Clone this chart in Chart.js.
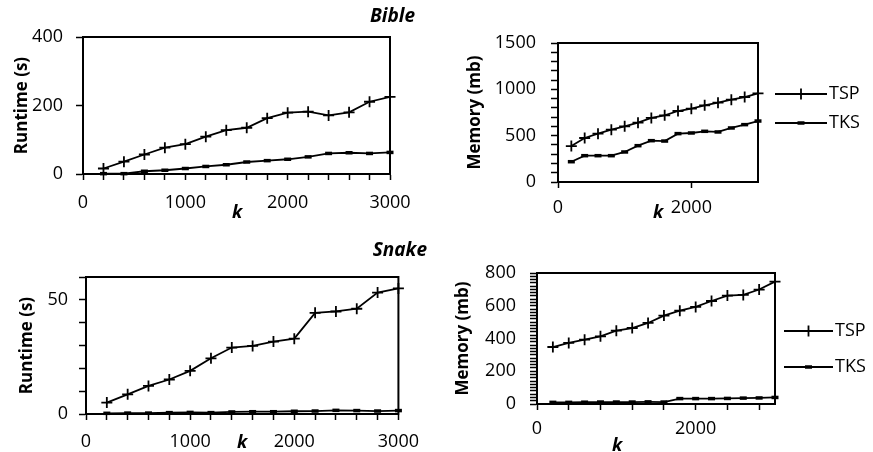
<!DOCTYPE html>
<html>
<head>
<meta charset="utf-8">
<script src="https://cdn.jsdelivr.net/npm/chart.js@4.4.0/dist/chart.umd.min.js"></script>
<style>
  body { margin: 0; background: #fff; }
  #wrap { position: relative; width: 873px; height: 452px; font-family: "Open Sans", sans-serif; }
  canvas { position: absolute; }
  .lbl { position: absolute; color: #000; white-space: nowrap; line-height: 1; }
  .title { font-size: 19px; font-weight: bold; font-style: italic; }
  .k { font-size: 18px; font-weight: bold; font-style: italic; }
</style>
</head>
<body>
<div id="wrap">
  <canvas id="bibleTime" width="430" height="225" style="left:0;top:0"></canvas>
  <canvas id="bibleMem" width="443" height="230" style="left:430px;top:0"></canvas>
  <canvas id="snakeTime" width="430" height="222" style="left:0;top:230px"></canvas>
  <canvas id="snakeMem" width="443" height="222" style="left:430px;top:230px"></canvas>
  <div class="lbl title" style="right:458px;top:6px">Bible</div>
  <div class="lbl title" style="right:446px;top:240px">Snake</div>
  <div class="lbl k" style="left:232px;top:202px">k</div>
  <div class="lbl k" style="left:653px;top:202px">k</div>
  <div class="lbl k" style="left:237px;top:432px">k</div>
  <div class="lbl k" style="left:612px;top:435px">k</div>
</div>
<script>
// x values (k) shared by all four panels
const kValues = [200, 400, 600, 800, 1000, 1200, 1400, 1600, 1800, 2000, 2200, 2400, 2600, 2800, 3000];

// Bible dataset
const bibleTimeTSP = [16, 36, 57, 77, 87, 109, 128, 135, 163, 179, 182, 171, 180, 211, 225];
const bibleTimeTKS = [1, 1, 8, 11, 16, 22, 27, 35, 39, 43, 50, 60, 62, 60, 63];
const bibleMemTSP = [388, 475, 522, 565, 601, 640, 691, 719, 766, 791, 827, 856, 888, 917, 957];
const bibleMemTKS = [219, 284, 284, 284, 324, 392, 446, 442, 522, 529, 547, 540, 583, 619, 658];

// Snake dataset
const snakeTimeTSP = [5.0, 8.6, 12.3, 15.1, 18.9, 24.4, 29.1, 29.8, 31.7, 33.0, 44.3, 44.9, 46.1, 53.2, 55.0];
const snakeTimeTKS = [0.3, 0.4, 0.4, 0.6, 0.7, 0.6, 0.9, 1.0, 1.0, 1.2, 1.3, 1.6, 1.5, 1.3, 1.5];
const snakeMemTSP = [348, 373, 393, 413, 448, 464, 495, 540, 570, 593, 629, 662, 666, 699, 747];
const snakeMemTKS = [10, 10, 11, 12, 12, 12, 13, 12, 33, 33, 33, 34, 36, 37, 40];

// labelled tick values
const bibleTimeYLabels = [0, 200, 400];
const bibleMemYLabels = [0, 500, 1000, 1500];
const snakeTimeYLabels = [0, 50];
const snakeMemYLabels = [0, 200, 400, 600, 800];
const wideXLabels = [0, 1000, 2000, 3000];
const narrowXLabels = [0, 2000];

const FONT = { family: '"Open Sans", sans-serif', size: 18 };

// tick positions every `step` from 0 up to max
function stepTicks(max, step) {
    const out = [];
    for (let v = 0; v <= max + 1e-9; v += step) out.push({ value: v });
    return out;
}

// box round the plot area + hand drawn legend
const boxLegend = {
    id: 'boxLegend',
    afterDraw(chart, args, opts) {
        const { ctx, chartArea } = chart;
        ctx.save();
        ctx.strokeStyle = '#000';
        ctx.fillStyle = '#000';
        ctx.lineWidth = 2;
        ctx.strokeRect(chartArea.left, chartArea.top, chartArea.width, chartArea.height);
        if (opts.items) {
            ctx.font = '18px "Open Sans", sans-serif';
            ctx.textBaseline = 'middle';
            chart.data.datasets.forEach((ds, i) => {
                const y = opts.items.y[i];
                ctx.lineWidth = ds.borderWidth;
                ctx.beginPath();
                ctx.moveTo(opts.items.x0, y);
                ctx.lineTo(opts.items.x1, y);
                ctx.stroke();
                ctx.lineWidth = ds.pointBorderWidth;
                Chart.helpers.drawPoint(ctx, {
                    pointStyle: ds.pointStyle, radius: ds.pointRadius,
                    borderWidth: ds.pointBorderWidth, rotation: 0
                }, (opts.items.x0 + opts.items.x1) / 2, y);
                ctx.fillText(ds.label, opts.items.x1 + 2, y);
            });
        }
        ctx.restore();
    }
};

function buildChart(id, o) {
    const series = (vals) => kValues.map((k, i) => ({ x: k, y: vals[i] }));
    return new Chart(document.getElementById(id), {
        type: 'line',
        data: {
            datasets: [
                {
                    label: 'TSP', data: series(o.tsp),
                    borderColor: '#000', backgroundColor: '#000', borderWidth: 1.8,
                    pointStyle: 'cross', pointRadius: 5.5, pointBorderWidth: 1.8, clip: false
                },
                {
                    label: 'TKS', data: series(o.tks),
                    borderColor: '#000', backgroundColor: '#000', borderWidth: 1.8,
                    pointStyle: 'line', pointRadius: 3.5, pointBorderWidth: 3.5, clip: false
                }
            ]
        },
        options: {
            responsive: false,
            animation: false,
            layout: { padding: { left: 0, top: o.top, right: o.right, bottom: 0 } },
            plugins: {
                legend: { display: false },
                tooltip: { enabled: false },
                boxLegend: { items: o.legend }
            },
            scales: {
                x: {
                    type: 'linear', min: 0, max: 3000,
                    border: { color: '#000', width: 2 },
                    grid: { drawOnChartArea: false, tickLength: 6, tickColor: '#000', tickWidth: 1.5 },
                    ticks: {
                        autoSkip: false, maxRotation: 0, padding: o.xPad,
                        color: '#000', font: FONT,
                        callback: (v) => o.xLabels.includes(v) ? v : ''
                    },
                    afterBuildTicks: (axis) => { axis.ticks = stepTicks(3000, o.xStep); },
                    afterFit: (axis) => { axis.height = o.xH; }
                },
                y: {
                    min: 0, max: o.yMax,
                    border: { color: '#000', width: 2 },
                    grid: { drawOnChartArea: false, tickLength: 7, tickColor: '#000', tickWidth: 1.5 },
                    ticks: {
                        autoSkip: false, padding: o.yPad,
                        color: '#000', font: FONT,
                        callback: (v) => o.yLabels.includes(v) ? v : ''
                    },
                    afterBuildTicks: (axis) => { axis.ticks = stepTicks(o.yMax, o.yStep); },
                    title: {
                        display: true, text: o.yTitle, color: '#000',
                        font: { family: FONT.family, size: 17, weight: 'bold' },
                        padding: { top: o.titlePad, bottom: 0 }
                    },
                    afterFit: (axis) => { axis.width = o.yW; }
                }
            }
        },
        plugins: [boxLegend]
    });
}

buildChart('bibleTime', {
    tsp: bibleTimeTSP, tks: bibleTimeTKS,
    yMax: 400, yStep: 200, yLabels: bibleTimeYLabels, yTitle: 'Runtime (s)',
    xStep: 200, xLabels: wideXLabels,
    top: 37, right: 40, yW: 83, xH: 51, yPad: 13, xPad: 12, titlePad: 12
});

buildChart('bibleMem', {
    tsp: bibleMemTSP, tks: bibleMemTKS,
    yMax: 1500, yStep: 100, yLabels: bibleMemYLabels, yTitle: 'Memory (mb)',
    xStep: 2000, xLabels: narrowXLabels,
    top: 43, right: 115, yW: 128, xH: 48, yPad: 15, xPad: 9, titlePad: 35,
    legend: { x0: 345, x1: 397, y: [94, 123] }
});

buildChart('snakeTime', {
    tsp: snakeTimeTSP, tks: snakeTimeTKS,
    yMax: 60, yStep: 10, yLabels: snakeTimeYLabels, yTitle: 'Runtime (s)',
    xStep: 200, xLabels: wideXLabels,
    top: 47, right: 29, yW: 86, xH: 38, yPad: 11, xPad: 11, titlePad: 17
});

buildChart('snakeMem', {
    tsp: snakeMemTSP, tks: snakeMemTKS,
    yMax: 800, yStep: 20, yLabels: snakeMemYLabels, yTitle: 'Memory (mb)',
    xStep: 400, xLabels: narrowXLabels,
    top: 43, right: 98, yW: 107, xH: 48, yPad: 14, xPad: 8, titlePad: 23,
    legend: { x0: 354, x1: 403, y: [101, 137] }
});
</script>
</body>
</html>
